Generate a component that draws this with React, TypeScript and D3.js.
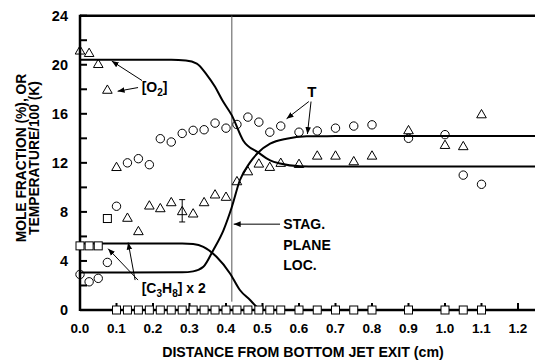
import React from "react";
import * as d3 from "d3";

// ---- data ----
const xPts = [0, 0.025, 0.05, 0.075, 0.1, 0.13, 0.16, 0.19, 0.22, 0.25, 0.28, 0.31, 0.34, 0.37, 0.4, 0.43, 0.46, 0.49, 0.52, 0.55, 0.6, 0.65, 0.7, 0.75, 0.8, 0.9, 1.0, 1.05, 1.1];
const o2Meas = [21.1, 20.9, 20.0, 17.9, 11.6, 7.46, 6.37, 8.46, 8.24, 8.73, 8.0, 7.81, 8.73, 9.36, 9.17, 10.44, 11.25, 11.88, 11.61, 11.94, 11.85, 12.53, 12.53, 12.07, 12.53, 14.6, 13.4, 13.3, 15.9];
const tMeas = [2.9, 2.3, 2.58, 3.88, 8.46, 12.0, 12.34, 11.85, 13.97, 13.7, 14.4, 14.65, 14.7, 15.24, 14.83, 15.13, 15.73, 15.32, 14.5, 15.0, 14.5, 14.6, 14.83, 15.0, 15.1, 14.0, 14.3, 11.0, 10.25];
const c3h8Meas = [5.23, 5.23, 5.23, 7.46, 0, 0, 0, 0, 0, 0, 0, 0, 0, 0, 0, 0, 0, 0, 0, 0, 0, 0, 0, 0, 0, 0, 0, 0, 0];
const errBar = { x: 0.28, lo: 7.18, hi: 9.0 };

const o2Model: [number, number][] = [[0, 20.4], [0.25, 20.4], [0.29, 20.35], [0.32, 20.1], [0.347, 19.2], [0.37, 18.2], [0.39, 17.1], [0.416, 15.87], [0.447, 13.83], [0.489, 12.83], [0.521, 12.2], [0.548, 11.94], [0.603, 11.72], [0.65, 11.7], [1.25, 11.7]];
const tModel: [number, number][] = [[0, 3.05], [0.28, 3.07], [0.31, 3.15], [0.338, 3.52], [0.365, 4.88], [0.393, 6.5], [0.416, 8.4], [0.438, 10.58], [0.465, 12.0], [0.489, 12.86], [0.521, 13.56], [0.566, 13.97], [0.621, 14.16], [0.7, 14.18], [1.25, 14.18]];
const c3h8Model: [number, number][] = [[0, 5.43], [0.28, 5.43], [0.31, 5.38], [0.338, 5.15], [0.374, 4.34], [0.411, 2.98], [0.438, 1.63], [0.466, 0.81], [0.484, 0.27], [0.5, 0]];

const stagX = 0.416;
const xTicks = [0, 0.1, 0.2, 0.3, 0.4, 0.5, 0.6, 0.7, 0.8, 0.9, 1.0, 1.1, 1.2];
const yTicks = [0, 2, 4, 6, 8, 10, 12, 14, 16, 18, 20, 22, 24];
const yLabels = [0, 4, 8, 12, 16, 20, 24];

// annotation arrows in data units [x1,y1,x2,y2]
const arrows: [number, number, number, number][] = [
  [0.17, 18.71, 0.087, 20.3],
  [0.159, 18.14, 0.103, 17.84],
  [0.627, 17.0, 0.566, 15.6],
  [0.633, 17.0, 0.623, 14.35],
  [0.159, 2.44, 0.077, 5.0],
  [0.151, 2.44, 0.132, 5.5],
  [0.548, 7.0, 0.421, 7.0],
];

const W = 535, H = 362;
const FONT = "'Liberation Sans', Arial, Helvetica, sans-serif";

export default function App() {
  const x = d3.scaleLinear().domain([0, 1.2]).range([80, 518]);
  const y = d3.scaleLinear().domain([0, 24]).range([310, 15.7]);
  const line = d3.line<[number, number]>().x(d => x(d[0])).y(d => y(d[1])).curve(d3.curveMonotoneX);
  const tri = d3.symbol().type(d3.symbolTriangle).size(40)();

  return (
    <svg width={W} height={H} style={{ position: "absolute", left: 0, top: 0, background: "#fff" }} fontFamily={FONT} fontWeight="bold">
      <defs>
        <marker id="ah" viewBox="0 0 10 10" refX="10" refY="5" markerWidth="7" markerHeight="7" orient="auto" markerUnits="userSpaceOnUse">
          <path d="M0,1 L10,5 L0,9 z" fill="#000" />
        </marker>
      </defs>
      {/* frame */}
      <line x1={x(0)} x2={W} y1={y(24)} y2={y(24)} stroke="#000" strokeWidth={2.5} />
      <line x1={x(0)} x2={W} y1={y(0)} y2={y(0)} stroke="#000" strokeWidth={2.5} />
      <line x1={x(0)} x2={x(0)} y1={y(24) - 1} y2={y(0) + 1} stroke="#000" strokeWidth={2.5} />
      {yTicks.map(t => (
        <line key={"yt" + t} x1={x(0)} x2={x(0) + 7} y1={y(t)} y2={y(t)} stroke="#000" strokeWidth={2} />
      ))}
      {xTicks.map(t => (
        <line key={"xt" + t} x1={x(t)} x2={x(t)} y1={y(0)} y2={y(0) - 7} stroke="#000" strokeWidth={2} />
      ))}
      {yLabels.map(t => (
        <text key={"yl" + t} x={68} y={y(t)} dy="0.36em" textAnchor="end" fontSize={14.5}>{t}</text>
      ))}
      {xTicks.map(t => (
        <text key={"xl" + t} x={x(t)} y={333} textAnchor="middle" fontSize={13.5}>{t.toFixed(1)}</text>
      ))}
      <text x={303} y={357} textAnchor="middle" fontSize={14.2}>DISTANCE FROM BOTTOM JET EXIT (cm)</text>
      <g transform="translate(0,158) rotate(-90)">
        <text x={0} y={26} textAnchor="middle" fontSize={13.8}>MOLE FRACTION (%), OR</text>
        <text x={0} y={38.5} textAnchor="middle" fontSize={13.8}>TEMPERATURE/100 (K)</text>
      </g>

      {/* stagnation plane */}
      <line x1={x(stagX)} x2={x(stagX)} y1={y(24)} y2={y(0.68)} stroke="#555" strokeWidth={1} />

      {/* model curves */}
      <path d={line(o2Model) || ""} fill="none" stroke="#000" strokeWidth={2} />
      <path d={line(tModel) || ""} fill="none" stroke="#000" strokeWidth={2} />
      <path d={line(c3h8Model) || ""} fill="none" stroke="#000" strokeWidth={2} />

      {/* error bar */}
      <g stroke="#000" strokeWidth={1}>
        <line x1={x(errBar.x)} x2={x(errBar.x)} y1={y(errBar.lo)} y2={y(errBar.hi)} />
        <line x1={x(errBar.x) - 3} x2={x(errBar.x) + 3} y1={y(errBar.lo)} y2={y(errBar.lo)} />
        <line x1={x(errBar.x) - 3} x2={x(errBar.x) + 3} y1={y(errBar.hi)} y2={y(errBar.hi)} />
      </g>

      {/* measured points */}
      {xPts.map((xv, i) => (
        <rect key={"s" + i} x={x(xv) - 4} y={y(c3h8Meas[i]) - 4} width={8} height={8} fill="#fff" stroke="#000" strokeWidth={1} />
      ))}
      {xPts.map((xv, i) => (
        <circle key={"c" + i} cx={x(xv)} cy={y(tMeas[i])} r={4.2} fill="none" stroke="#000" strokeWidth={1} />
      ))}
      {xPts.map((xv, i) => (
        <path key={"t" + i} d={tri || ""} transform={`translate(${x(xv)},${y(o2Meas[i])})`} fill="none" stroke="#000" strokeWidth={1} />
      ))}

      {/* annotations */}
      {arrows.map((a, i) => (
        <line key={"a" + i} x1={x(a[0])} y1={y(a[1])} x2={x(a[2])} y2={y(a[3])} stroke="#000" strokeWidth={1} markerEnd="url(#ah)" />
      ))}
      <text x={x(0.169)} y={y(17.74)} fontSize={14}>[O<tspan fontSize={10} dy={4}>2</tspan><tspan dy={-4}>]</tspan></text>
      <text x={x(0.635)} y={y(17.41)} textAnchor="middle" fontSize={15}>T</text>
      <text x={x(0.169)} y={y(1.38)} fontSize={14}>[C<tspan fontSize={10} dy={4}>3</tspan><tspan dy={-4}>H</tspan><tspan fontSize={10} dy={4}>8</tspan><tspan dy={-4}>] x 2</tspan></text>
      <text x={x(0.557)} y={y(6.59)} fontSize={14}>
        <tspan x={x(0.557)}>STAG.</tspan>
        <tspan x={x(0.557)} dy={20.5}>PLANE</tspan>
        <tspan x={x(0.557)} dy={20}>LOC.</tspan>
      </text>
    </svg>
  );
}
